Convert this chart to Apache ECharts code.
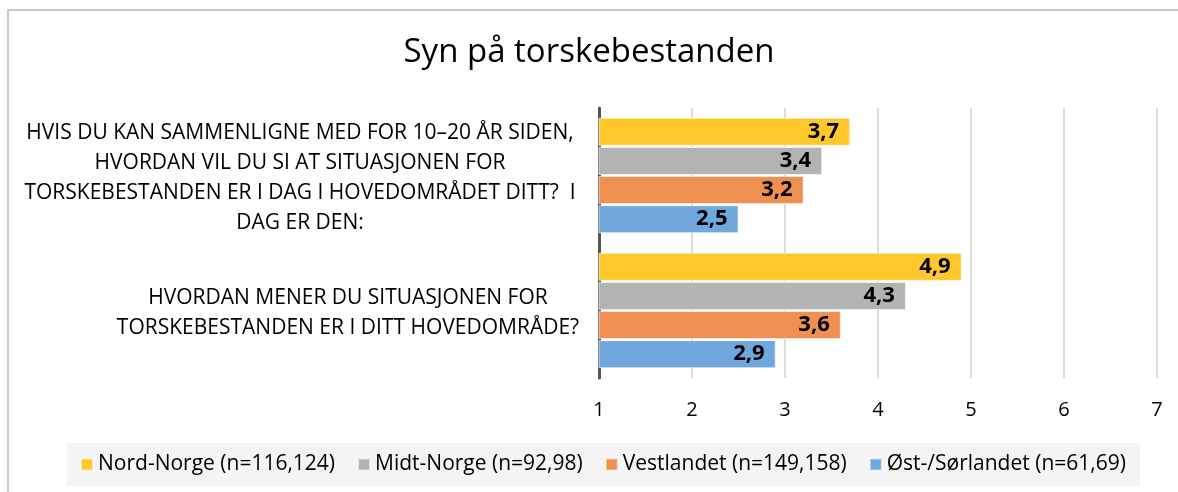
<!DOCTYPE html>
<html>
<head>
    <meta charset="utf-8">
    <title>Syn på torskebestanden</title>
    <script src="https://cdn.jsdelivr.net/npm/echarts@6/dist/echarts.min.js"></script>
    <style>
        html, body { margin: 0; padding: 0; background: #fff; }
        #frame { position: absolute; left: 7px; top: 9px; width: 1171px; height: 483px;
                 border-left: 2px solid #c9c9c9; border-top: 2px solid #c9c9c9; }
        #main { position: absolute; left: 0; top: 0; width: 1178px; height: 492px; }
    </style>
</head>
<body>
    <div id="frame"></div>
    <div id="main"></div>
    <script type="text/javascript">

    var font = '"Open Sans", Lato, sans-serif';

    var categories = [
        'HVIS DU KAN SAMMENLIGNE MED FOR 10–20 ÅR SIDEN,\nHVORDAN VIL DU SI AT SITUASJONEN FOR\nTORSKEBESTANDEN ER I DAG I HOVEDOMRÅDET DITT?  I\nDAG ER DEN:',
        'HVORDAN MENER DU SITUASJONEN FOR\nTORSKEBESTANDEN ER I DITT HOVEDOMRÅDE?'
    ];
    var seriesNames = ['Nord-Norge (n=116,124)', 'Midt-Norge (n=92,98)', 'Vestlandet (n=149,158)', 'Øst-/Sørlandet (n=61,69)'];
    var nordNorge = [3.7, 4.9];
    var midtNorge = [3.4, 4.3];
    var vestlandet = [3.2, 3.6];
    var ostSorlandet = [2.5, 2.9];
    var colors = ['#ffc729', '#b3b3b3', '#ef8f50', '#70a7dc'];

    var myChart = echarts.init(document.getElementById('main'));

    // each category label centred in its own box
    function labelFormatter(value, idx) {
        var style = idx === 0 ? 'q1' : 'q2';
        return value.split('\n').map(function (l) { return '{' + style + '|' + l + '}'; }).join('\n');
    }

    var values = [nordNorge, midtNorge, vestlandet, ostSorlandet];
    var series = [];
    for (var i = 0; i < seriesNames.length; i++) {
        series.push({
            name: seriesNames[i],
            type: 'bar',
            data: values[i],
            barWidth: 28,
            barGap: '4%',
            itemStyle: { color: colors[i], borderColor: 'rgba(255,255,255,0.6)', borderWidth: 1 },
            label: {
                show: true,
                position: 'insideRight',
                distance: 11,
                fontFamily: font,
                fontSize: 22,
                fontWeight: 'bold',
                color: '#000',
                formatter: function (p) { return String(p.value).replace('.', ','); }
            }
        });
    }

    var option = {
        animation: false,
        color: colors,
        title: {
            text: 'Syn på torskebestanden',
            left: 'center',
            top: 31,
            padding: [5, 5, 5, 27],
            textStyle: { fontFamily: font, fontSize: 33, fontWeight: 'normal', color: '#000' }
        },
        legend: {
            data: seriesNames,
            bottom: 6,
            left: 67,
            itemWidth: 12,
            itemHeight: 12,
            itemGap: 22,
            padding: [11, 14, 11, 13],
            backgroundColor: '#f4f4f4',
            icon: 'rect',
            textStyle: { fontFamily: font, fontSize: 21, color: '#000' }
        },
        grid: { left: 599, right: 21, top: 108, bottom: 114, containLabel: false },
        xAxis: {
            type: 'value',
            min: 1,
            max: 7,
            interval: 1,
            axisLine: { show: false },
            axisTick: { show: false },
            splitLine: { lineStyle: { color: '#d0d0d0', width: 1.5 } },
            axisLabel: { fontFamily: font, fontSize: 20, color: '#000', margin: 22 }
        },
        yAxis: {
            type: 'category',
            inverse: true,
            data: categories,
            axisLine: { lineStyle: { color: '#555', width: 3 } },
            axisTick: { show: false },
            axisLabel: {
                margin: 16,
                align: 'right',
                padding: [5, 0, 0, 0],
                formatter: labelFormatter,
                rich: {
                    q1: { width: 566, align: 'center', fontFamily: font, fontSize: 21, color: '#000', lineHeight: 30 },
                    q2: { width: 470, align: 'center', fontFamily: font, fontSize: 21, color: '#000', lineHeight: 30 }
                }
            }
        },
        series: series
    };
    myChart.setOption(option);

    </script>
</body>
</html>
